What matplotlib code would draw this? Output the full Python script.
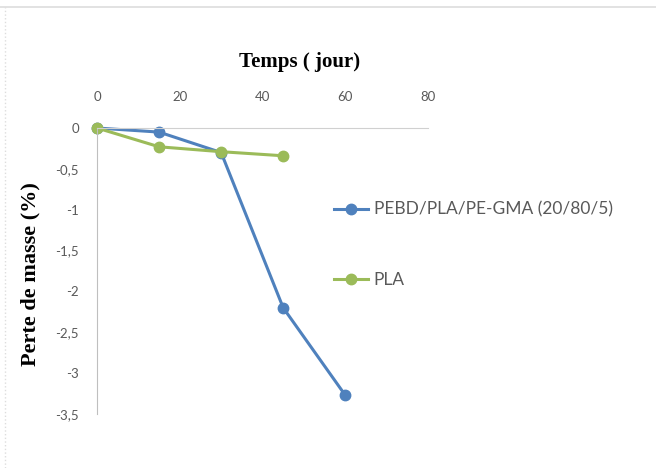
import matplotlib.pyplot as plt
from matplotlib.ticker import FuncFormatter

# data
days = [0, 15, 30, 45, 60]
pebd_pla_gma = [0, -0.05, -0.30, -2.20, -3.27]
days_pla = [0, 15, 30, 45]
pla = [0, -0.23, -0.29, -0.34]
labels = ["PEBD/PLA/PE-GMA (20/80/5)", "PLA"]

blue = "#4F81BD"
green = "#9BBB59"
grey = "#595959"

fig = plt.figure(figsize=(6.56, 4.68), dpi=100)
ax = fig.add_axes([97 / 656, 1 - 414 / 468, (428 - 97) / 656, (414 - 128) / 468])

ax.plot(days, pebd_pla_gma, color=blue, lw=2.2, marker="o", ms=7.5, label=labels[0])
ax.plot(days_pla, pla, color=green, lw=2.2, marker="o", ms=7.5, label=labels[1])

ax.set_xlim(0, 80)
ax.set_ylim(-3.5, 0)
ax.set_xticks([0, 20, 40, 60, 80])
ax.set_yticks([0, -0.5, -1, -1.5, -2, -2.5, -3, -3.5])
ax.yaxis.set_major_formatter(FuncFormatter(lambda v, p: ("%g" % v).replace(".", ",")))

ax.xaxis.tick_top()
ax.tick_params(axis="x", length=0, pad=18, labelsize=9.5, labelcolor=grey)
ax.tick_params(axis="y", length=0, pad=13, labelsize=9.5, labelcolor=grey)
for lab in ax.get_xticklabels() + ax.get_yticklabels():
    lab.set_fontfamily("Lato")

for s in ["bottom", "right"]:
    ax.spines[s].set_visible(False)
ax.spines["top"].set_color("#d0d0d0")
ax.spines["left"].set_color("#bfbfbf")
for ln in ax.lines:
    ln.set_clip_on(False)

fig.text(300 / 656, 1 - 62 / 468, "Temps ( jour)", ha="center", va="center",
         fontsize=15, fontweight="bold", family="Liberation Serif")
fig.text(30 / 656, 1 - 274 / 468, "Perte de masse (%)", ha="center", va="center",
         rotation=90, fontsize=16, fontweight="bold", family="Liberation Serif")

fig.legend(loc="upper left", bbox_to_anchor=(318 / 656, 1 - 186 / 468), frameon=False,
           prop={"family": "Lato", "size": 12.5}, handlelength=2.0, labelspacing=3.15,
           handletextpad=0.3, labelcolor=grey)

# faint frame of the original picture
fig.add_artist(plt.Line2D([0, 1], [1 - 7 / 468, 1 - 7 / 468], color="#dddddd", lw=1.2))
fig.add_artist(plt.Line2D([5 / 656, 5 / 656], [0, 1 - 7 / 468], color="#dddddd", lw=1, ls=":"))

fig.savefig("out.png", dpi=100)
